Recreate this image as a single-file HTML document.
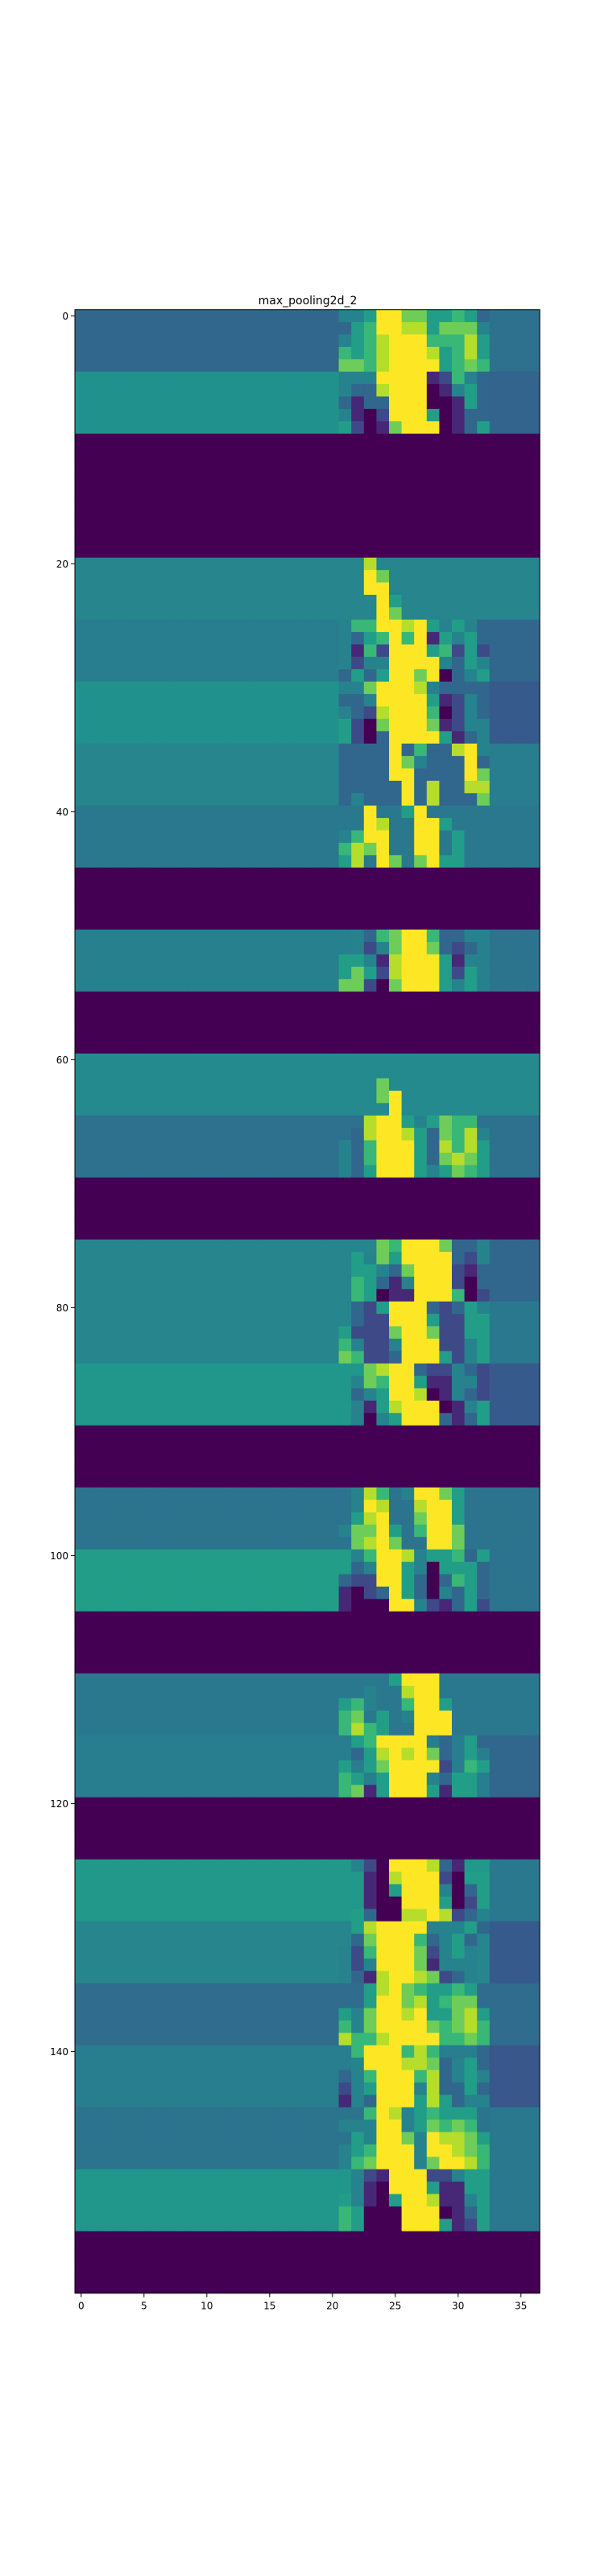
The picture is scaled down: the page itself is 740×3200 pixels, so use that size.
<!DOCTYPE html>
<html><head><meta charset="utf-8"><style>
html,body{margin:0;padding:0;background:#fff;}
svg{display:block;}
text{font-family:"DejaVu Sans","Liberation Sans",sans-serif;fill:#000;}
</style></head>
<body>
<svg id="chart" width="740" height="3200" viewBox="0 0 740 3200" xmlns="http://www.w3.org/2000/svg">
<text x="382" y="378" font-size="14" text-anchor="middle">max_pooling2d_2</text>
<g id="cells"></g>
<g id="axes"></g>
</svg>
<script>
// 5-row blocks: left background value (cols 0-20) and right background (cols 33-36); 0 = dark block
const blockLeft  = [0.33,0.5,0,0,0.45,0.42,0.5,0.45,0.4,0,0.43,0,0.47,0.37,0,0.45,0.45,0.52,0,0.38,0.55,0,0.4,0.42,0,0.53,0.45,0.35,0.42,0.38,0.52,0];
const blockRight = [0.37,0.32,0,0,0.45,0.33,0.28,0.42,0.4,0,0.38,0,0.47,0.37,0,0.33,0.4,0.28,0,0.38,0.38,0,0.4,0.33,0,0.4,0.28,0.35,0.27,0.4,0.4,0];
// middle columns 21..32, digits 0-9 (value = d/9), '.' = row's left background
const midRows = [
"445997755653","356998857774","456899966685","656899985685","776899995676",
"444999912643","433899901453","313399900153","410299950133","520179990135",
"............","............","............","............","............",
"............","............","............","............","............",
"..8.........","..97........","..99........","...95.......","...97.......",
"466998954543","435696915453","416299956252","424499994354","353599790345",
"447999843333","334999951243","432899960243","520799971244","520399995134",
"333393633894","333397433393","333399333397","333339383388","343339383337",
"..9..59.....","..98..995...","4699..99.5..","6879..99.5..","58.97.7955..",
"............","............","............","............","............",
".43679963344",".4247997323.","55418999514.","57528999525.","77207999545.",
"............","............","............","............","............",
"............","............","...7........","...79.......","....9.......",
"..899545766.",".38998537684","436999538685","436999537875","435999545765",
"............","............","............","............","............",
"...769997334",".54759999324",".55437999213",".65314999203",".65011999602",
".32599932354",".32299952255","522279972255","642249992245","762239995245",
"..7899322432",".47699511442",".34599801432",".41589990145",".40459993135",
"............","............","............","............","............",
".486.49975..",".498..8995..",".589..7995..","47795.6997..",".7897..997..",
".46998455635",".34995405553","322995303653","102395304353","100099421352",
"............","............","............","............","............",
"....5999....","..4..899....","564..6995...","67.5.4999...","6865..999...",
".569999.3.53",".35898973.5.","5.5799992.65","65.59994355.","67159995155.",
"............","............","............","............","............",
".420999831..","..1089992055","..1059994035","..1009995025",".53008898234",
".58999944453",".3799963453.","42699972454.","42499971444.","43189987234.",
"..589765565.","..599785677.","547998955785","647999976786","866899996676",
".6999686...3",".49998873453","346999683454","245999483353","143999585344",
"..698456555.","44499457676.",".54997498875","456999499876","467999479986",
".42199922455",".41099951155","541059981145","650009990135","650009995125",
"............","............","............","............","............"
];
const xTickLabels = ["0","5","10","15","20","25","30","35"];
const yTickLabels = ["0","20","40","60","80","100","120","140"];

const NC = 37, NR = 160;
const X0 = 93, CW = 15.6, Y0 = 384.7, RH = 15.4;
function xs(c){ return X0 + c*CW; }
function ys(r){ return Y0 + r*RH; }
const stops = [[0,[68,1,84]],[0.1,[72,36,117]],[0.2,[65,68,135]],[0.3,[53,95,141]],[0.4,[42,120,142]],[0.5,[33,145,140]],[0.6,[34,168,132]],[0.7,[68,191,112]],[0.8,[122,209,81]],[0.9,[189,223,38]],[1,[253,231,37]]];
function viridis(v){
  v=Math.max(0,Math.min(1,v));
  for(let i=1;i<stops.length;i++){
    if(v<=stops[i][0]){
      const a=stops[i-1],b=stops[i],t=(v-a[0])/(b[0]-a[0]);
      const c=a[1].map((x,k)=>Math.round(x+(b[1][k]-x)*t));
      return `rgb(${c[0]},${c[1]},${c[2]})`;
    }
  }
  return 'rgb(253,231,37)';
}
function cellValue(r,c){
  const b=Math.floor(r/5);
  const L=blockLeft[b], R=blockRight[b];
  if(c<=20) return L;
  if(c>=33) return R;
  const ch=midRows[r][c-21];
  if(ch==='.') return L;
  return parseInt(ch,10)/9;
}
const NS='http://www.w3.org/2000/svg';
const cells=document.getElementById('cells');
for(let r=0;r<NR;r++){
  for(let c=0;c<NC;c++){
    const el=document.createElementNS(NS,'rect');
    el.setAttribute('x',xs(c).toFixed(2));
    el.setAttribute('y',ys(r).toFixed(2));
    el.setAttribute('width',(CW+0.4).toFixed(2));
    el.setAttribute('height',(RH+0.4).toFixed(2));
    el.setAttribute('fill',viridis(cellValue(r,c)));
    
    
    cells.appendChild(el);
  }
}
const axes=document.getElementById('axes');
const frame=document.createElementNS(NS,'rect');
frame.setAttribute('x',X0);frame.setAttribute('y',Y0);
frame.setAttribute('width',NC*CW);frame.setAttribute('height',NR*RH);
frame.setAttribute('fill','none');frame.setAttribute('stroke','#000');frame.setAttribute('stroke-width','1');


axes.appendChild(frame);
xTickLabels.forEach(l=>{
  const v=parseFloat(l), x=xs(v+0.5);
  const t=document.createElementNS(NS,'line');
  t.setAttribute('x1',x);t.setAttribute('x2',x);t.setAttribute('y1',ys(NR));t.setAttribute('y2',ys(NR)+5);
  t.setAttribute('stroke','#000');
  
  
  axes.appendChild(t);
  const tx=document.createElementNS(NS,'text');
  tx.setAttribute('x',x);tx.setAttribute('y',ys(NR)+20);tx.setAttribute('font-size','12');tx.setAttribute('text-anchor','middle');
  tx.textContent=l;
  
  
  axes.appendChild(tx);
});
yTickLabels.forEach(l=>{
  const v=parseFloat(l), y=ys(v+0.5);
  const t=document.createElementNS(NS,'line');
  t.setAttribute('x1',X0-5);t.setAttribute('x2',X0);t.setAttribute('y1',y);t.setAttribute('y2',y);
  t.setAttribute('stroke','#000');
  
  
  axes.appendChild(t);
  const tx=document.createElementNS(NS,'text');
  tx.setAttribute('x',X0-8);tx.setAttribute('y',y+4.5);tx.setAttribute('font-size','12');tx.setAttribute('text-anchor','end');
  tx.textContent=l;
  
  
  axes.appendChild(tx);
});
</script>
</body></html>
